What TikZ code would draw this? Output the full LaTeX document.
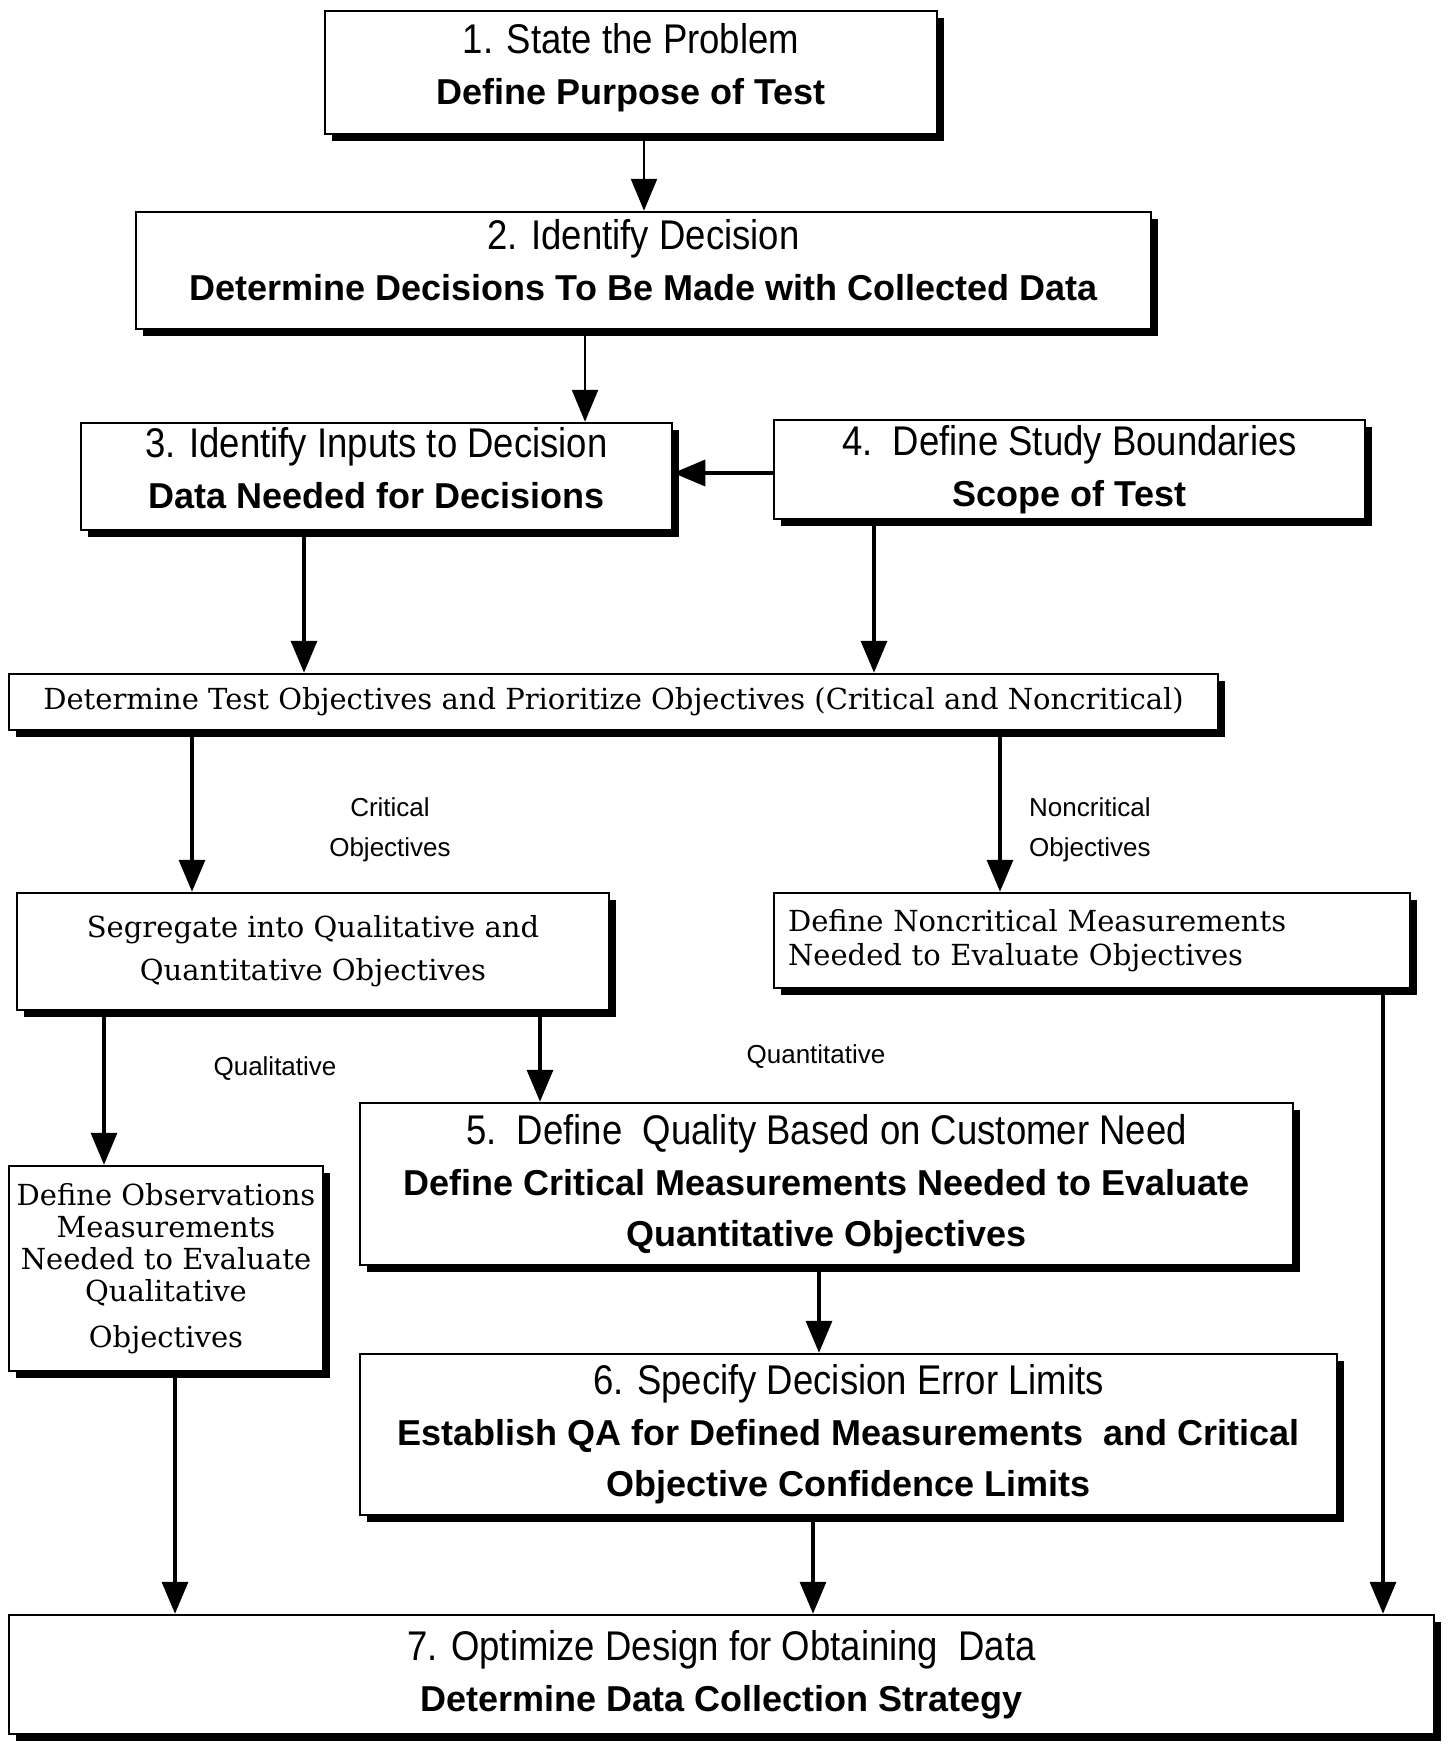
\documentclass[tikz,border=0pt]{standalone}
\usepackage{fontspec}
\setmainfont{Liberation Sans}
\newfontfamily\hdrfam[FakeStretch=0.88]{Liberation Sans}
\newfontfamily\bldfam{Liberation Sans}
\newfontfamily\slabfam{DejaVu Serif}
\usetikzlibrary{arrows.meta,shadows}
\newcommand\HdrTxt{\hdrfam\fontsize{41.5}{51}\selectfont}
\newcommand\BldTxt{\bldfam\bfseries\fontsize{36}{51}\selectfont}
\newcommand\SlabTxt{\slabfam\fontsize{29}{43}\selectfont}
\newcommand\LblTxt{\fontsize{26}{40}\selectfont}
\newcommand\UpBy[1]{\rule[-#1]{0pt}{0pt}}
\begin{document}
\begin{tikzpicture}[x=1pt,y=-1pt,
  box/.style={draw=black, line width=2.5pt, fill=white, inner sep=0pt, align=center,
     font=\fontsize{36}{51}\selectfont,
     general shadow={fill=black, shadow xshift=7pt, shadow yshift=-7pt}},
  arr/.style={line width=3.5pt, -{Triangle[length=32pt,width=26pt]}},
  thinarr/.style={line width=2.5pt, -{Triangle[length=32pt,width=26pt]}},
  lbl/.style={inner sep=0pt, font=\LblTxt}]
\useasboundingbox (0,0) rectangle (1450,1746);

\node[box, minimum width=612pt, minimum height=123pt] (b1) at (631,72.5)
  {{\HdrTxt 1. State the Problem}\\{\BldTxt Define Purpose of Test\UpBy{18pt}}};
\node[box, minimum width=1015pt, minimum height=117pt] (b2) at (643.5,270.5)
  {{\HdrTxt 2. Identify Decision}\\{\BldTxt Determine Decisions To Be Made with Collected Data\UpBy{21pt}}};
\node[box, minimum width=591pt, minimum height=107pt] (b3) at (376.5,476.5)
  {{\HdrTxt 3. Identify Inputs to Decision}\\{\BldTxt Data Needed for Decisions\UpBy{17pt}}};
\node[box, minimum width=591pt, minimum height=99pt] (b4) at (1069.5,469.5)
  {{\HdrTxt 4.\ \ Define Study Boundaries}\\{\BldTxt Scope of Test}};
\node[box, minimum width=1209pt, minimum height=56pt, font=\SlabTxt] (obj) at (613.5,702)
  {Determine Test Objectives and Prioritize Objectives (Critical and Noncritical)};
\node[box, minimum width=592pt, minimum height=117pt, font=\SlabTxt] (seg) at (313,951.5)
  {Segregate into Qualitative and\\Quantitative Objectives};
\node[box, minimum width=636pt, minimum height=95pt, inner xsep=14pt, text width=608pt,
  align=left, font=\slabfam\fontsize{29}{34}\selectfont] (nc) at (1092,940.5)
  {Define Noncritical Measurements\\Needed to Evaluate Objectives};
\node[box, minimum width=314pt, minimum height=205pt, font=\slabfam\fontsize{29}{32}\selectfont] (obs) at (166,1268.5)
  {Define Observations\\Measurements\\Needed to Evaluate\\Qualitative\\[14pt]Objectives};
\node[box, minimum width=933pt, minimum height=162pt] (b5) at (826.5,1184)
  {{\HdrTxt 5.\ \ Define\ \ Quality Based on Customer Need}\\{\BldTxt Define Critical Measurements Needed to Evaluate}\\{\BldTxt Quantitative Objectives}};
\node[box, minimum width=977pt, minimum height=161pt] (b6) at (848.5,1434.5)
  {{\HdrTxt 6. Specify Decision Error Limits}\\{\BldTxt Establish QA for Defined Measurements\ \ and Critical}\\{\BldTxt Objective Confidence Limits}};
\node[box, minimum width=1425pt, minimum height=119pt] (b7) at (721.5,1674.5)
  {{\HdrTxt 7. Optimize Design for Obtaining\ \ Data}\\{\BldTxt Determine Data Collection Strategy}};

\node[lbl, align=center] (lcrit) at (390,830) {Critical\\Objectives};
\node[lbl, align=left, anchor=west] (lnon) at (1029,830) {Noncritical\\Objectives};
\node[lbl] (lqual) at (275,1069) {Qualitative};
\node[lbl] (lquant) at (816,1057) {Quantitative};

\draw[thinarr] (b1.south -| 644,0) -- (b2.north -| 644,0);
\draw[thinarr] (b2.south -| 585,0) -- (b3.north -| 585,0);
\draw[arr] (b4.west |- 0,473) -- (b3.east |- 0,473);
\draw[arr] (b3.south -| 304,0) -- (obj.north -| 304,0);
\draw[arr] (b4.south -| 874,0) -- (obj.north -| 874,0);
\draw[arr] (obj.south -| 192,0) -- (seg.north -| 192,0);
\draw[arr] (obj.south -| 1000,0) -- (nc.north -| 1000,0);
\draw[arr] (seg.south -| 104,0) -- (obs.north -| 104,0);
\draw[arr] (seg.south -| 540,0) -- (b5.north -| 540,0);
\draw[arr] (b5.south -| 819,0) -- (b6.north -| 819,0);
\draw[arr] (b6.south -| 813,0) -- (b7.north -| 813,0);
\draw[arr] (obs.south -| 175,0) -- (b7.north -| 175,0);
\draw[arr] (nc.south -| 1383,0) -- (b7.north -| 1383,0);
\end{tikzpicture}
\end{document}
